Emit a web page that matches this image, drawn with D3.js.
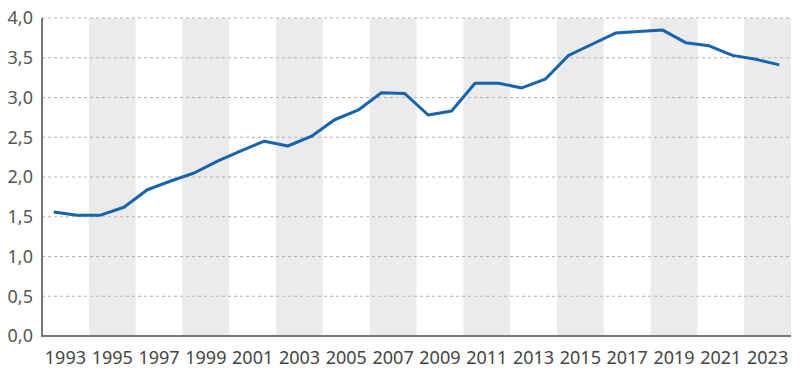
<!DOCTYPE html>
<html>
<head>
<meta charset="utf-8">
<script src="https://cdn.jsdelivr.net/npm/d3@7"></script>
<style>
  body { margin: 0; background: #fff; }
  svg { display: block; font-family: "Noto Sans", sans-serif; }
</style>
</head>
<body>
<div id="chart"></div>
<script>
// Data
const years = d3.range(1993, 2025);
const values = [1.56, 1.52, 1.52, 1.62, 1.84, 1.95, 2.05, 2.20, 2.33, 2.45,
                2.39, 2.51, 2.72, 2.84, 3.06, 3.05, 2.78, 2.83, 3.18, 3.18,
                3.12, 3.23, 3.53, 3.67, 3.81, 3.83, 3.85, 3.69, 3.65, 3.53,
                3.48, 3.41];
const yTicks = [0, 0.5, 1, 1.5, 2, 2.5, 3, 3.5, 4];
const labelYears = d3.range(1993, 2024, 2);
const bandYears = [1995, 1999, 2003, 2007, 2011, 2015, 2019, 2023];

const width = 800, height = 372;
const margin = { top: 18, right: 9, bottom: 36, left: 42 };

const svg = d3.select("#chart").append("svg")
    .attr("width", width)
    .attr("height", height);

// each year is a category slot, points sit in the middle of it
const x = d3.scaleLinear()
    .domain([1992.5, 2024.5])
    .range([margin.left, width - margin.right]);

const y = d3.scaleLinear()
    .domain([0, 4])
    .range([height - margin.bottom, margin.top]);

// grey background bands (two years wide)
svg.append("g")
  .selectAll("rect")
  .data(bandYears)
  .join("rect")
    .attr("x", d => x(d - 0.5))
    .attr("y", y(4))
    .attr("width", d => x(d + 1.5) - x(d - 0.5))
    .attr("height", y(0) - y(4))
    .attr("fill", "#ebebeb");

// dashed gridlines
svg.append("g")
  .selectAll("line")
  .data(yTicks.filter(d => d > 0))
  .join("line")
    .attr("x1", margin.left)
    .attr("x2", width - margin.right)
    .attr("y1", d => y(d))
    .attr("y2", d => y(d))
    .attr("stroke", "#b3b3b3")
    .attr("stroke-width", 1)
    .attr("stroke-dasharray", "3,3");

// y tick labels, comma decimals
const fmt = d => d3.format(".1f")(d).replace(".", ",");
svg.append("g")
  .selectAll("text")
  .data(yTicks)
  .join("text")
    .attr("x", margin.left - 9)
    .attr("y", d => y(d))
    .attr("dy", "0.35em")
    .attr("text-anchor", "end")
    .attr("font-size", 18)
    .attr("fill", "#555")
    .text(fmt);

// x labels, centred over each pair of years
svg.append("g")
  .selectAll("text")
  .data(labelYears)
  .join("text")
    .attr("x", d => x(d + 0.5))
    .attr("y", height - 8)
    .attr("text-anchor", "middle")
    .attr("font-size", 18)
    .attr("fill", "#444")
    .text(d => d);

// axis lines
svg.append("path")
    .attr("d", `M${margin.left},${y(4)}V${y(0)}H${width - margin.right}`)
    .attr("fill", "none")
    .attr("stroke", "#777")
    .attr("stroke-width", 2);

// the series
const line = d3.line()
    .x((d, i) => x(years[i]))
    .y(d => y(d));

svg.append("path")
    .datum(values)
    .attr("d", line)
    .attr("fill", "none")
    .attr("stroke", "#1763ad")
    .attr("stroke-width", 3)
    .attr("stroke-linejoin", "round");
</script>
</body>
</html>
